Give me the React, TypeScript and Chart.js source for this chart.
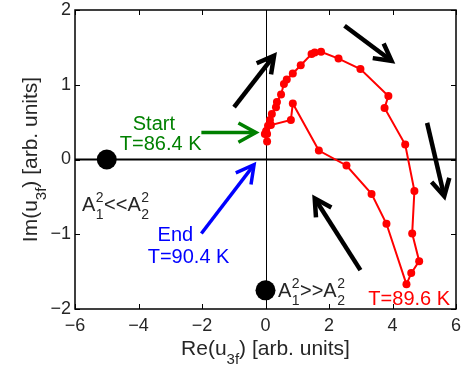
import React, { useEffect, useRef } from 'react';
import { Chart, registerables } from 'chart.js';

Chart.register(...registerables);

// ---- data ----
const reValues = [0.05, 0.02, 0.08, 0.14, 0.20, 0.33, 0.36, 0.49, 0.58, 0.67, 0.86, 1.11, 1.45, 1.55, 1.75, 2.30, 2.99, 3.87, 3.75, 4.40, 4.69, 4.62, 4.84, 4.59, 4.44, 3.81, 3.34, 2.55, 1.68, 0.86, 0.80, 0.17, -0.02, 0.05];
const imValues = [0.34, 0.38, 0.45, 0.53, 0.61, 0.70, 0.77, 0.87, 1.01, 1.07, 1.15, 1.26, 1.41, 1.43, 1.44, 1.35, 1.21, 0.85, 0.69, 0.20, -0.42, -0.99, -1.36, -1.52, -1.67, -0.86, -0.46, -0.08, 0.12, 0.75, 0.53, 0.46, 0.34, 0.24];
const markerRe = [-5.0, 0.0];
const markerIm = [0.0, -1.75];
const xTickValues = [-6, -4, -2, 0, 2, 4, 6];
const yTickValues = [-2, -1, 0, 1, 2];

// annotation arrows in data units: [x1, y1, x2, y2]
const blackArrows = [
  [-0.99, 0.70, 0.27, 1.39],
  [2.49, 1.79, 3.97, 1.32],
  [5.09, 0.49, 5.63, -0.49],
  [2.99, -1.48, 1.55, -0.52],
];
const startArrow = [-2.02, 0.36, -0.30, 0.36];
const endArrow = [-2.02, -0.99, -0.36, -0.07];

// annotation texts: [text, x, y, colour]
const textLabels: [string, number, number, string][] = [
  ['Start', -4.18, 0.40, '#008000'],
  ['T=86.4 K', -4.59, 0.13, '#008000'],
  ['End', -3.40, -1.09, '#0000ff'],
  ['T=90.4 K', -3.71, -1.39, '#0000ff'],
  ['T=89.6 K', 3.24, -1.95, '#ff0000'],
];
// amplitude-ratio labels: [operator, x, y]
const ampLabels: [string, number, number][] = [
  ['<<', -5.78, -0.69],
  ['>>', 0.39, -1.84],
];

const FONT = '"Liberation Sans", Arial, Helvetica, sans-serif';
const TEXT = '#262626';

function drawArrow(ctx: CanvasRenderingContext2D, x1: number, y1: number, x2: number, y2: number, color: string, width: number, headLen: number, headAng: number) {
  ctx.save();
  ctx.strokeStyle = color;
  ctx.lineWidth = width;
  ctx.lineCap = 'butt';
  ctx.lineJoin = 'miter';
  const ang = Math.atan2(y2 - y1, x2 - x1);
  ctx.beginPath();
  ctx.moveTo(x1, y1);
  ctx.lineTo(x2 - Math.cos(ang) * width * 0.5, y2 - Math.sin(ang) * width * 0.5);
  ctx.stroke();
  ctx.beginPath();
  ctx.moveTo(x2 - headLen * Math.cos(ang - headAng), y2 - headLen * Math.sin(ang - headAng));
  ctx.lineTo(x2, y2);
  ctx.lineTo(x2 - headLen * Math.cos(ang + headAng), y2 - headLen * Math.sin(ang + headAng));
  ctx.stroke();
  ctx.restore();
}

function drawAmp(ctx: CanvasRenderingContext2D, op: string, x: number, y: number) {
  ctx.save();
  ctx.fillStyle = TEXT;
  ctx.textAlign = 'left';
  ctx.textBaseline = 'alphabetic';
  const big = `20px ${FONT}`;
  const small = `14px ${FONT}`;
  let cx = x;
  const part = (sub: string) => {
    ctx.font = big;
    ctx.fillText('A', cx, y);
    cx += ctx.measureText('A').width + 0.5;
    ctx.font = small;
    ctx.fillText('2', cx, y - 9);
    ctx.fillText(sub, cx, y + 8);
    cx += Math.max(ctx.measureText('2').width, ctx.measureText(sub).width) + 0.5;
  };
  part('1');
  ctx.font = big;
  ctx.fillText(op, cx, y);
  cx += ctx.measureText(op).width;
  part('2');
  ctx.restore();
}

function drawAxisTitle(ctx: CanvasRenderingContext2D, pre: string, sub: string, post: string, cx: number, cy: number, rotate: boolean) {
  ctx.save();
  ctx.translate(cx, cy);
  if (rotate) ctx.rotate(-Math.PI / 2);
  ctx.fillStyle = TEXT;
  ctx.textAlign = 'left';
  ctx.textBaseline = 'alphabetic';
  const big = `21px ${FONT}`;
  const small = `15px ${FONT}`;
  ctx.font = big;
  const w1 = ctx.measureText(pre).width;
  const w3 = ctx.measureText(post).width;
  ctx.font = small;
  const w2 = ctx.measureText(sub).width;
  const total = w1 + w2 + w3;
  let x = -total / 2;
  ctx.font = big;
  ctx.fillText(pre, x, 0);
  x += w1;
  ctx.font = small;
  ctx.fillText(sub, x, 9);
  x += w2;
  ctx.font = big;
  ctx.fillText(post, x, 0);
  ctx.restore();
}

const decorPlugin = {
  id: 'decor',
  beforeDatasetsDraw(chart: any) {
    const { ctx, chartArea: a, scales } = chart;
    const xs = scales.x, ys = scales.y;
    ctx.save();
    ctx.strokeStyle = '#000';
    // zero lines
    ctx.lineWidth = 2;
    const y0 = ys.getPixelForValue(0);
    ctx.beginPath(); ctx.moveTo(a.left, y0); ctx.lineTo(a.right, y0); ctx.stroke();
    ctx.lineWidth = 1;
    const x0 = Math.round(xs.getPixelForValue(0)) + 0.5;
    ctx.beginPath(); ctx.moveTo(x0, a.top); ctx.lineTo(x0, a.bottom); ctx.stroke();
    // inner ticks
    ctx.lineWidth = 1;
    const tl = 5;
    xTickValues.forEach((v) => {
      const px = Math.round(xs.getPixelForValue(v)) + 0.5;
      ctx.beginPath(); ctx.moveTo(px, a.bottom); ctx.lineTo(px, a.bottom - tl); ctx.stroke();
      ctx.beginPath(); ctx.moveTo(px, a.top); ctx.lineTo(px, a.top + tl); ctx.stroke();
    });
    yTickValues.forEach((v) => {
      const py = Math.round(ys.getPixelForValue(v)) + 0.5;
      ctx.beginPath(); ctx.moveTo(a.left, py); ctx.lineTo(a.left + tl, py); ctx.stroke();
      ctx.beginPath(); ctx.moveTo(a.right, py); ctx.lineTo(a.right - tl, py); ctx.stroke();
    });
    // frame
    ctx.lineWidth = 1.5;
    ctx.strokeRect(a.left, a.top, a.right - a.left, a.bottom - a.top);
    ctx.restore();
  },
  afterDatasetsDraw(chart: any) {
    const { ctx, chartArea: a, scales } = chart;
    const xs = scales.x, ys = scales.y;
    const P = (x: number, y: number) => [xs.getPixelForValue(x), ys.getPixelForValue(y)];
    blackArrows.forEach(([x1, y1, x2, y2]) => {
      const [p1, q1] = P(x1, y1);
      const [p2, q2] = P(x2, y2);
      drawArrow(ctx, p1, q1, p2, q2, '#000', 4.5, 19, 0.5);
    });
    {
      const [p1, q1] = P(startArrow[0], startArrow[1]);
      const [p2, q2] = P(startArrow[2], startArrow[3]);
      drawArrow(ctx, p1, q1, p2, q2, '#008000', 3.5, 20, 0.5);
    }
    {
      const [p1, q1] = P(endArrow[0], endArrow[1]);
      const [p2, q2] = P(endArrow[2], endArrow[3]);
      drawArrow(ctx, p1, q1, p2, q2, '#0000ff', 3.5, 20, 0.5);
    }
    ctx.save();
    ctx.font = `20px ${FONT}`;
    ctx.textAlign = 'left';
    ctx.textBaseline = 'alphabetic';
    textLabels.forEach(([t, x, y, c]) => {
      const [px, py] = P(x, y);
      ctx.fillStyle = c;
      ctx.fillText(t, px, py);
    });
    ctx.restore();
    ampLabels.forEach(([op, x, y]) => {
      const [px, py] = P(x, y);
      drawAmp(ctx, op, px, py);
    });
    // axis titles
    drawAxisTitle(ctx, 'Re(u', '3f', ') [arb. units]', (a.left + a.right) / 2, 355, false);
    drawAxisTitle(ctx, 'Im(u', '3f', ') [arb. units]', 37, (a.top + a.bottom) / 2, true);
  },
};

const fmt = (v: number | string) => {
  const n = Number(v);
  return n < 0 ? '\u2212' + Math.abs(n) : String(n);
};

const xGrid = { display: true, drawOnChartArea: false, drawTicks: true, tickLength: 6, color: 'rgba(0,0,0,0)' };
const yGrid = { display: true, drawOnChartArea: false, drawTicks: true, tickLength: 4, color: 'rgba(0,0,0,0)' };

export default function App() {
  const ref = useRef<HTMLCanvasElement>(null);
  useEffect(() => {
    const prevMargin = document.body.style.margin;
    document.body.style.margin = '0';
    const canvas = ref.current!;
    const chart = new Chart(canvas, {
      type: 'scatter',
      data: {
        datasets: [
          {
            data: reValues.map((x, i) => ({ x, y: imValues[i] })),
            showLine: true,
            borderColor: '#ff0000',
            backgroundColor: '#ff0000',
            borderWidth: 2,
            pointRadius: 4,
            pointBorderWidth: 0,
            pointBackgroundColor: '#ff0000',
            clip: false as any,
          },
          {
            data: markerRe.map((x, i) => ({ x, y: markerIm[i] })),
            showLine: false,
            pointRadius: 10,
            pointBorderWidth: 0,
            pointBackgroundColor: '#000',
            backgroundColor: '#000',
            clip: false as any,
          },
        ],
      },
      options: {
        responsive: false,
        animation: false,
        events: [],
        layout: { padding: { left: 0, right: 8, top: 7, bottom: 0 } },
        plugins: { legend: { display: false }, tooltip: { enabled: false } },
        scales: {
          x: {
            type: 'linear',
            min: -6,
            max: 6,
            afterBuildTicks: (s: any) => { s.ticks = xTickValues.map((v) => ({ value: v })); },
            afterFit: (s: any) => { s.height = 62; },
            grid: xGrid,
            border: { display: false },
            ticks: {
              color: TEXT,
              font: { family: FONT, size: 18, lineHeight: 1 },
              padding: 2,
              maxRotation: 0,
              callback: (v: any) => fmt(v),
            },
          },
          y: {
            type: 'linear',
            min: -2,
            max: 2,
            afterBuildTicks: (s: any) => { s.ticks = yTickValues.map((v) => ({ value: v })); },
            afterFit: (s: any) => { s.width = 75; },
            grid: yGrid,
            border: { display: false },
            ticks: {
              color: TEXT,
              font: { family: FONT, size: 18, lineHeight: 0.7 },
              padding: 0,
              callback: (v: any) => fmt(v),
            },
          },
        },
      } as any,
      plugins: [decorPlugin],
    });
    return () => {
      chart.destroy();
      document.body.style.margin = prevMargin;
    };
  }, []);
  return (
    <div style={{ position: 'absolute', left: 0, top: 0, width: 466, height: 371 }}>
      <canvas ref={ref} width={466} height={371} style={{ display: 'block' }} />
    </div>
  );
}
